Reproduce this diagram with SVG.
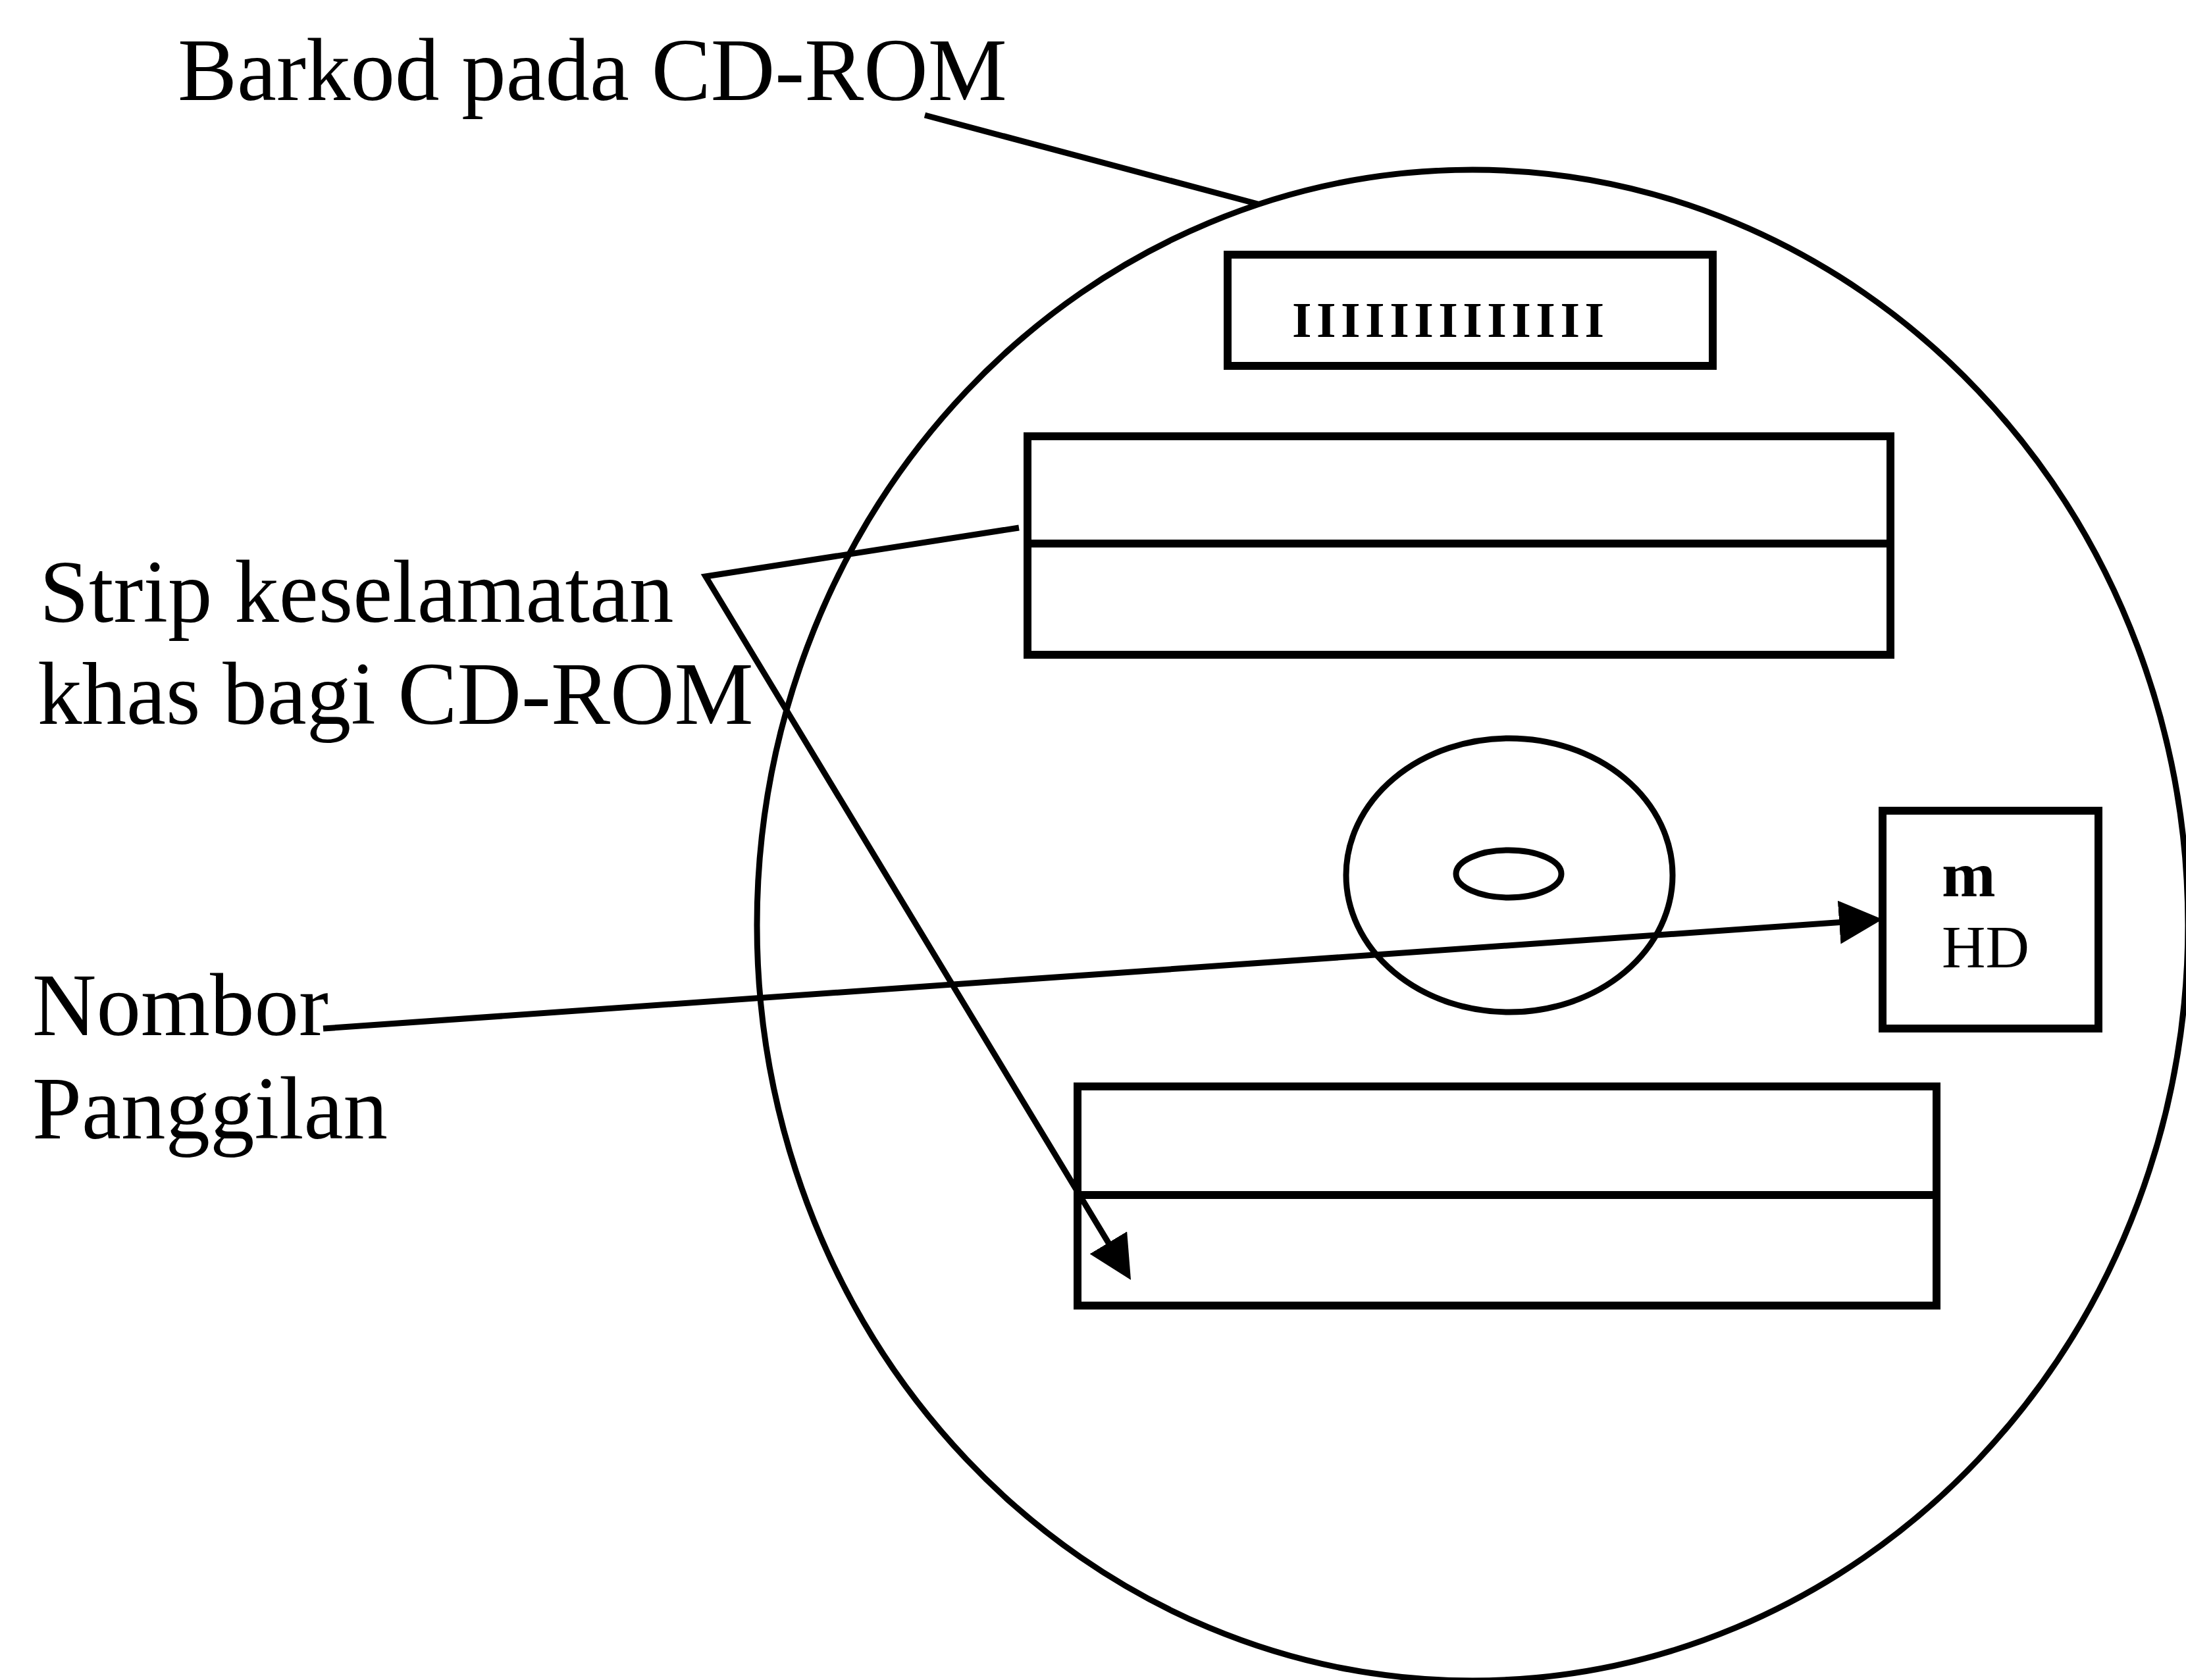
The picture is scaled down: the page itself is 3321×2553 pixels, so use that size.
<svg xmlns="http://www.w3.org/2000/svg" width="3321" height="2553" viewBox="0 0 3321 2553">
<style>
  .lbl { font-family: "Liberation Serif", "Times New Roman", serif; font-size: 135px; fill: #000; }
  .box { fill: none; stroke: #000; stroke-width: 12; }
  .disc { fill: none; stroke: #000; stroke-width: 9; }
  .lead { fill: none; stroke: #000; stroke-width: 9; stroke-linejoin: miter; }
</style>
<defs>
  <marker id="arrow" viewBox="0 0 66 66" markerWidth="66" markerHeight="66" markerUnits="userSpaceOnUse" refX="36" refY="33" orient="auto">
    <path d="M0,0 L66,33 L0,66 z" fill="#000"/>
  </marker>
</defs>
<rect width="3321" height="2553" fill="#fff"/>

<g id="disc">
  <ellipse cx="2237" cy="1406" rx="1087" ry="1148" class="disc"/>
  <ellipse cx="2293" cy="1330" rx="248" ry="208" class="disc"/>
  <ellipse cx="2292" cy="1328" rx="80" ry="36" class="disc" stroke-width="10"/>
</g>

<g id="barcode">
  <rect x="1865" y="387" width="737" height="169" class="box"/>
  <text x="1963" y="512" font-family="Liberation Serif, serif" font-size="76" font-weight="bold" textLength="474" lengthAdjust="spacing">IIIIIIIIIIIII</text>
</g>

<g id="strip-top">
  <rect x="1561" y="663" width="1311" height="332" class="box"/>
  <line x1="1561" y1="826" x2="2872" y2="826" class="box"/>
</g>

<g id="strip-bottom">
  <rect x="1637" y="1651" width="1305" height="333" class="box"/>
  <line x1="1637" y1="1816" x2="2942" y2="1816" class="box"/>
</g>

<g id="call-number">
  <rect x="2860" y="1232" width="328" height="331" class="box"/>
  <text x="2950" y="1362" font-family="Liberation Serif, serif" font-size="98" font-weight="bold">m</text>
  <text x="2950" y="1470" font-family="Liberation Serif, serif" font-size="92">HD</text>
</g>

<g id="labels">
  <text class="lbl" x="270" y="152">Barkod pada CD-ROM</text>
  <text class="lbl" x="60" y="945">Strip keselamatan</text>
  <text class="lbl" x="57" y="1100">khas bagi CD-ROM</text>
  <text class="lbl" x="49" y="1573">Nombor</text>
  <text class="lbl" x="49" y="1730">Panggilan</text>
</g>

<g id="connectors">
  <line x1="1405" y1="175" x2="1911" y2="310" class="lead"/>
  <polyline points="1548,802 1072,876 1702.5,1919.3" class="lead" marker-end="url(#arrow)"/>
  <line x1="491" y1="1563" x2="2830.1" y2="1399.1" class="lead" marker-end="url(#arrow)"/>
</g>
</svg>
